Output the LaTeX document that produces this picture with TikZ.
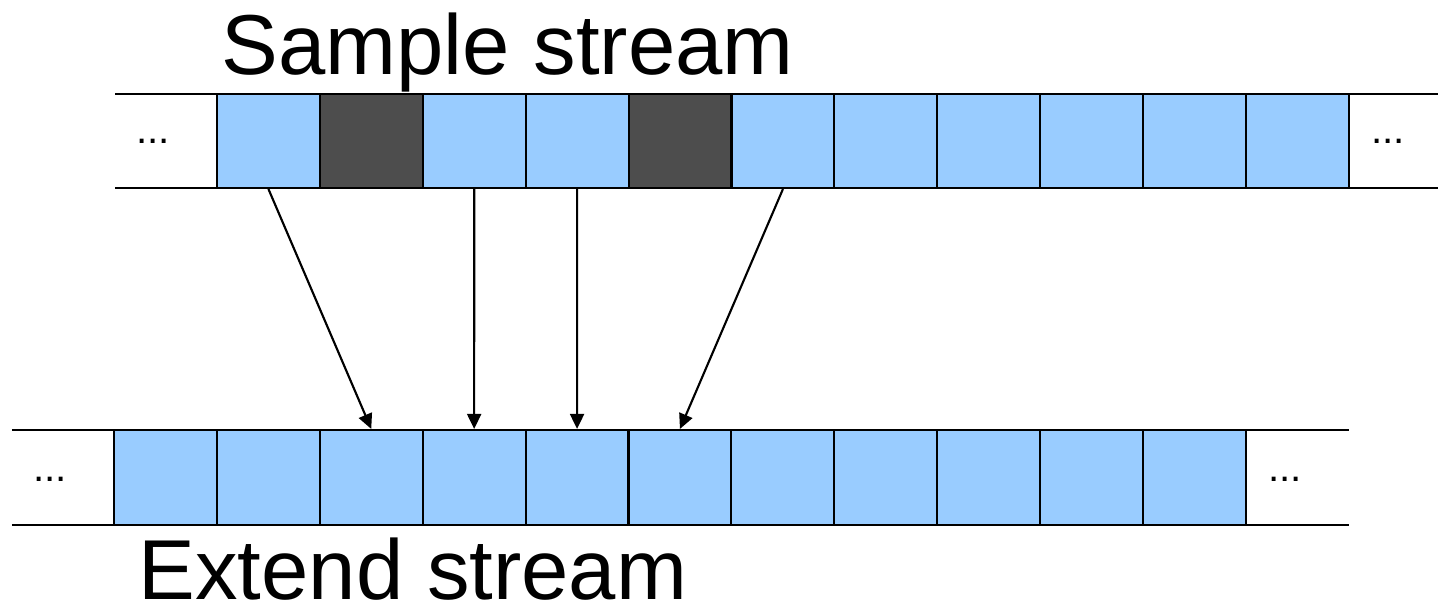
\documentclass[tikz,border=0pt]{standalone}
\usepackage{fontspec}
\setmainfont{Liberation Sans}
\usetikzlibrary{arrows.meta}
\definecolor{cellblue}{RGB}{153,204,255}
\definecolor{celldark}{RGB}{77,77,77}

\begin{document}
\begin{tikzpicture}[
    cell/.style={draw, fill=cellblue, minimum width=1.029cm, minimum height=0.94cm, inner sep=0pt, line width=0.6pt},
    darkcell/.style={cell, fill=celldark},
    rail/.style={line width=0.6pt},
    dots/.style={font=\fontsize{11.5}{13}\selectfont, inner sep=0pt},
    caption/.style={font=\fontsize{24.2}{29}\selectfont, inner sep=0pt, anchor=base west},
    pick/.style={line width=0.6pt, -{Triangle[length=0.15cm, width=0.14cm]}}
]
    \useasboundingbox (0,0) rectangle (14.38,-6.04);

    % sample stream
    
    \draw[rail] (1.15,-0.94) -- (14.38,-0.94);
    \draw[rail] (1.15,-1.88) -- (14.38,-1.88);
    \foreach \i/\s in {1/cell,2/darkcell,3/cell,4/cell,5/darkcell,6/cell,7/cell,8/cell,9/cell,10/cell,11/cell}
        \node[\s] (s\i) at ({2.17+(\i-0.5)*1.029},-1.41) {};
    \node[dots] (sl) at (1.53,-1.41) {...};
    \node[dots] (sr) at (13.88,-1.41) {...};
    \node[caption] (stitle) at (2.21,-0.75) {Sample stream};

    % extend stream
    
    \draw[rail] (0.12,-4.30) -- (13.49,-4.30);
    \draw[rail] (0.12,-5.25) -- (13.49,-5.25);
    \foreach \i in {1,...,11}
        \node[cell, minimum height=0.95cm] (e\i) at ({1.14+(\i-0.5)*1.029},-4.775) {};
    \node[dots] (el) at (0.50,-4.79) {...};
    \node[dots] (er) at (12.85,-4.79) {...};
    \node[caption] (etitle) at (1.38,-5.99) {Extend stream};

    % picked samples
    
    \draw[pick] (s1.south) -- (e3.north);
    \draw[pick] (s3.south) -- (e4.north);
    \draw[pick] (s4.south) -- (e5.north);
    \draw[pick] (s6.south) -- (e6.north);

\end{tikzpicture}
\end{document}
